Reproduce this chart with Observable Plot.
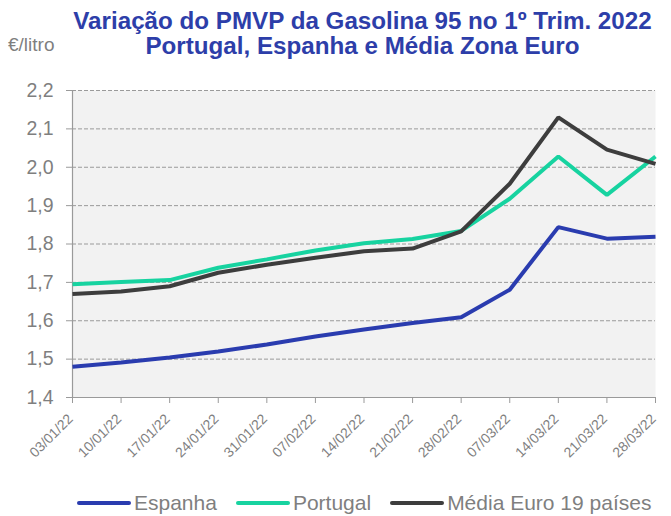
<!DOCTYPE html>
<html>
<head>
<meta charset="utf-8">
<script src="https://cdn.jsdelivr.net/npm/d3@7"></script>
<script src="https://cdn.jsdelivr.net/npm/@observablehq/plot@0.6"></script>
<style>
  html, body { margin: 0; padding: 0; background: #fff; }
  #wrap { position: relative; width: 671px; height: 516px; font-family: "Liberation Sans", Arial, sans-serif; }
  #title { position: absolute; left: 0; width: 725px; top: 8px; text-align: center; color: #2d3ea9;
           font-weight: bold; font-size: 24.2px; line-height: 25px; }
  #unit { position: absolute; left: 8px; top: 34px; color: #7f7f7f; font-size: 19px; }
  #legend { position: absolute; left: 77px; top: 491px; display: flex; align-items: center; color: #7f7f7f; font-size: 21px; }
  .item { display: flex; align-items: center; margin-right: 19px; }
  .sw { width: 54px; height: 4px; border-radius: 2px; margin-right: 3px; }
  #chart { position: absolute; left: 0; top: 0; }
</style>
</head>
<body>
<div id="wrap">
  <div id="chart"></div>
  <div id="title">Variação do PMVP da Gasolina 95 no 1º Trim. 2022<br>Portugal, Espanha e Média Zona Euro</div>
  <div id="unit">€/litro</div>
  <div id="legend"></div>
</div>
<script>
const dates = ["03/01/22","10/01/22","17/01/22","24/01/22","31/01/22","07/02/22","14/02/22","21/02/22","28/02/22","07/03/22","14/03/22","21/03/22","28/03/22"];
const espanha = [1.480,1.491,1.504,1.520,1.538,1.559,1.577,1.594,1.609,1.681,1.844,1.814,1.819];
const portugal = [1.695,1.701,1.706,1.738,1.760,1.783,1.802,1.813,1.834,1.918,2.028,1.928,2.028];
const euro = [1.670,1.676,1.690,1.725,1.746,1.764,1.781,1.788,1.833,1.957,2.130,2.046,2.009];
const seriesNames = ["Espanha","Portugal","Média Euro 19 países"];
const seriesColors = ["#2a3caf","#17d3a0","#3d3d3d"];
const yTicks = [1.4,1.5,1.6,1.7,1.8,1.9,2.0,2.1,2.2];

const seriesValues = [espanha, portugal, euro];
const rows = [];
seriesNames.forEach((name, s) => {
  dates.forEach((d, i) => rows.push({date: d, value: seriesValues[s][i], series: name}));
});

const fmt = d => d.toFixed(1).replace(".", ",");

const chart = Plot.plot({
  width: 671,
  height: 516,
  marginTop: 90,
  marginBottom: 119,
  marginLeft: 72,
  marginRight: 16,
  style: {fontFamily: "'Liberation Sans', Arial, sans-serif", color: "#7f7f7f", background: "transparent"},
  x: {type: "point", domain: dates, padding: 0, round: false},
  y: {domain: [1.4, 2.2]},
  color: {domain: seriesNames, range: seriesColors},
  marks: [
    Plot.frame({fill: "#f2f2f2", stroke: null}),
    Plot.ruleY(yTicks.slice(1), {stroke: "#9a9a9a", strokeDasharray: "4,2", strokeWidth: 1}),
    Plot.ruleY([yTicks[0]], {stroke: "#9a9a9a", strokeWidth: 1.2}),
    Plot.ruleX([dates[0]], {stroke: "#9a9a9a", strokeWidth: 1.2}),
    Plot.axisY({ticks: yTicks, tickFormat: fmt, fontSize: 19.5, tickSize: 6, tickPadding: 13, stroke: "#9a9a9a", label: null}),
    Plot.axisX({tickSize: 6, tickFormat: () => "", stroke: "#9a9a9a", label: null}),
    Plot.text(dates, {x: d => d, frameAnchor: "bottom", text: d => d, rotate: -45, textAnchor: "end",
                      lineAnchor: "middle", fontSize: 14, fill: "#7f7f7f", dx: -2, dy: 19}),
    Plot.line(rows, {x: "date", y: "value", z: "series", stroke: "series", strokeWidth: 4, strokeLinejoin: "miter", strokeLinecap: "butt"})
  ]
});
document.getElementById("chart").appendChild(chart);

const legend = document.getElementById("legend");
seriesNames.forEach((name, i) => {
  const item = document.createElement("div");
  item.className = "item";
  const sw = document.createElement("div");
  sw.className = "sw";
  sw.style.background = seriesColors[i];
  const t = document.createElement("span");
  t.textContent = name;
  item.appendChild(sw);
  item.appendChild(t);
  legend.appendChild(item);
});
</script>
</body>
</html>
